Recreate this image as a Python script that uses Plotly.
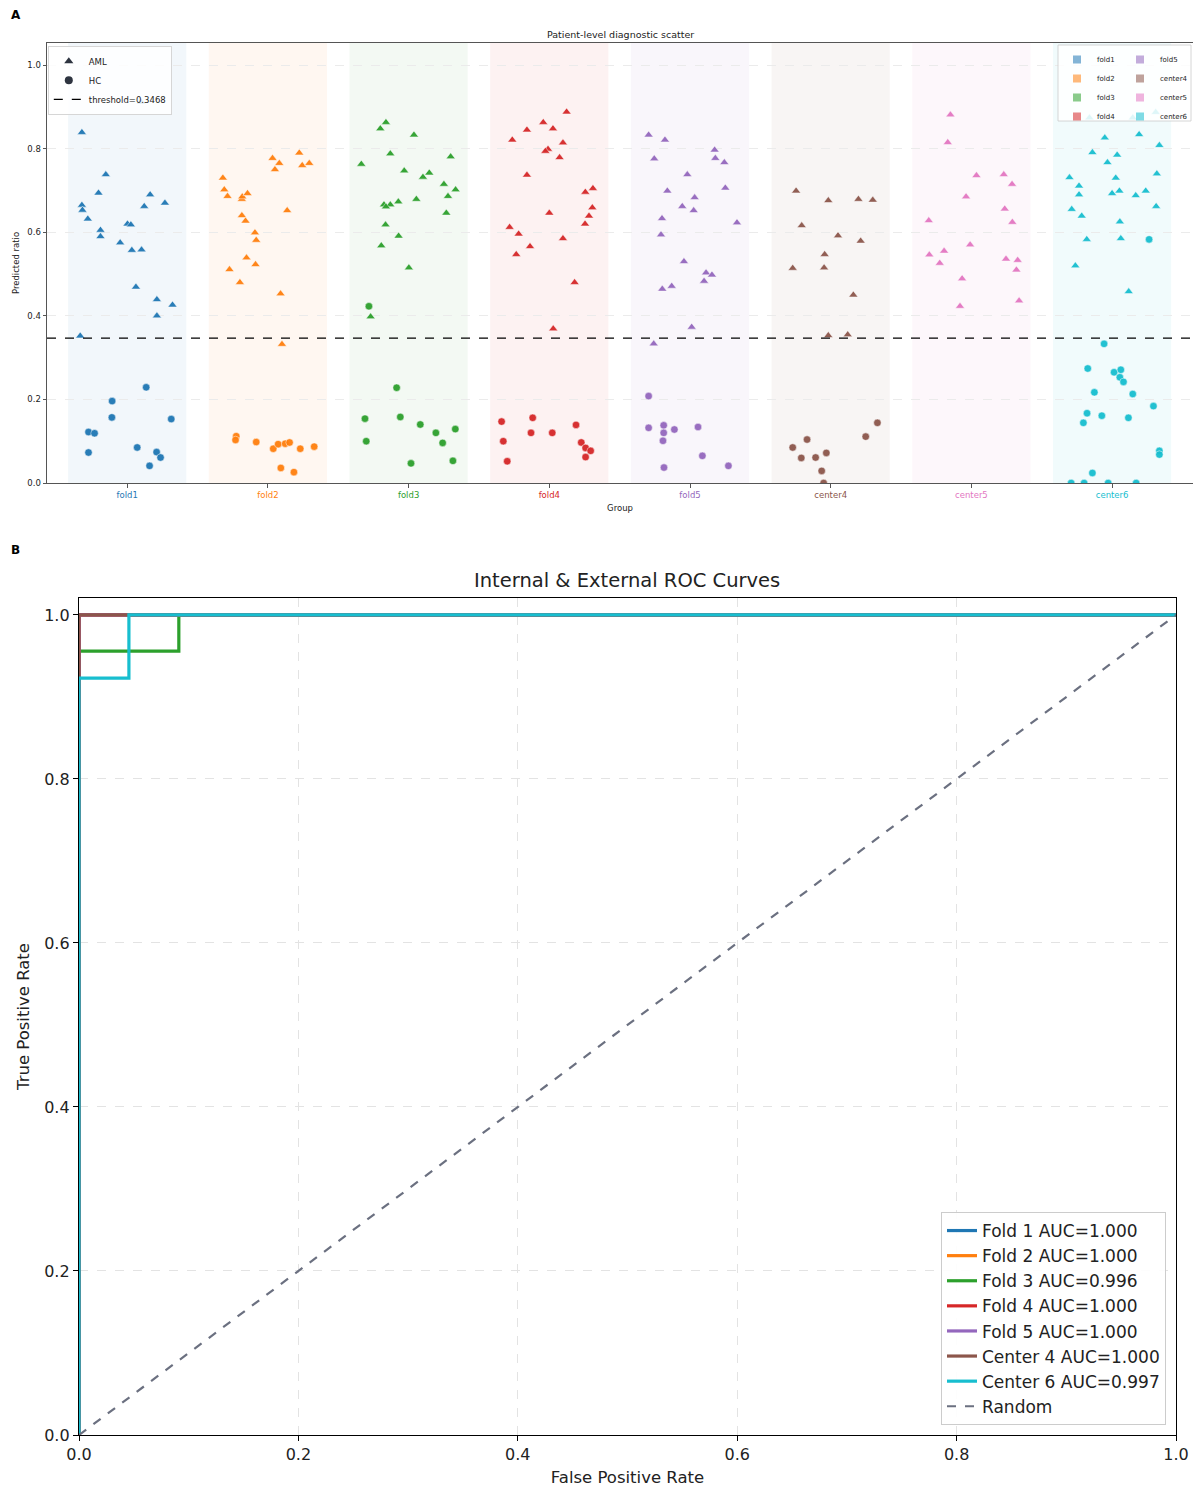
import plotly.graph_objects as go

# ---------------- Panel A data ----------------
groups = ["fold1", "fold2", "fold3", "fold4", "fold5", "center4", "center5", "center6"]
group_colors = ["#1f77b4", "#ff7f0e", "#2ca02c", "#d62728", "#9467bd", "#8c564b", "#e377c2", "#17becf"]
band_fills = ["rgba(31,119,180,0.06)", "rgba(255,127,14,0.06)", "rgba(44,160,44,0.06)", "rgba(214,39,40,0.06)",
              "rgba(148,103,189,0.06)", "rgba(140,86,75,0.06)", "rgba(227,119,194,0.06)", "rgba(23,190,207,0.06)"]
threshold = 0.3468

# predicted ratio values (AML) and horizontal jitter offsets
fold1_aml = [0.912, 0.839, 0.738, 0.694, 0.690, 0.670, 0.665, 0.662, 0.653, 0.632, 0.605, 0.590, 0.620, 0.618,
             0.575, 0.557, 0.558, 0.469, 0.439, 0.400, 0.426, 0.352]
fold1_aml_jit = [0.097, -0.322, -0.152, -0.204, 0.163, 0.268, -0.322, 0.121, -0.318, -0.280, -0.190, -0.190, 0.002,
                 0.026, -0.050, 0.033, 0.102, 0.062, 0.211, 0.211, 0.322, -0.334]
fold1_hc = [0.229, 0.196, 0.157, 0.153, 0.122, 0.119, 0.073, 0.085, 0.074, 0.061, 0.041]
fold1_hc_jit = [0.135, -0.107, -0.109, 0.313, -0.275, -0.232, -0.275, 0.071, 0.209, 0.237, 0.159]

fold2_aml = [0.730, 0.702, 0.686, 0.679, 0.685, 0.693, 0.777, 0.765, 0.750, 0.790, 0.760, 0.765, 0.652, 0.640,
             0.627, 0.599, 0.581, 0.539, 0.523, 0.511, 0.480, 0.453, 0.332]
fold2_aml_jit = [-0.320, -0.310, -0.287, -0.185, -0.182, -0.145, 0.033, 0.081, 0.050, 0.223, 0.244, 0.294, 0.137,
                 -0.185, -0.159, -0.092, -0.083, -0.152, -0.088, -0.273, -0.199, 0.090, 0.100]
fold2_hc = [0.112, 0.103, 0.098, 0.082, 0.093, 0.094, 0.097, 0.082, 0.087, 0.036, 0.026]
fold2_hc_jit = [-0.225, -0.230, -0.083, 0.038, 0.073, 0.123, 0.154, 0.230, 0.329, 0.092, 0.185]

fold3_aml = [0.863, 0.848, 0.833, 0.788, 0.781, 0.763, 0.747, 0.742, 0.732, 0.715, 0.702, 0.686, 0.679, 0.673,
             0.666, 0.666, 0.661, 0.646, 0.618, 0.591, 0.568, 0.515, 0.398]
fold3_aml_jit = [-0.161, -0.201, 0.038, -0.130, 0.299, -0.336, -0.031, 0.147, 0.102, 0.251, 0.334, 0.280, 0.055,
                 -0.073, -0.175, -0.130, -0.161, 0.268, -0.164, -0.071, -0.194, 0.002, -0.270]
fold3_hc = [0.423, 0.228, 0.154, 0.158, 0.140, 0.120, 0.129, 0.100, 0.096, 0.053, 0.047]
fold3_hc_jit = [-0.282, -0.085, -0.310, -0.059, 0.083, 0.194, 0.332, -0.301, 0.242, 0.315, 0.017]

fold4_aml = [0.888, 0.863, 0.848, 0.845, 0.821, 0.814, 0.799, 0.794, 0.779, 0.737, 0.705, 0.696, 0.659, 0.646,
             0.639, 0.620, 0.612, 0.596, 0.585, 0.566, 0.547, 0.480, 0.369]
fold4_aml_jit = [0.123, -0.043, 0.026, -0.159, -0.263, 0.097, -0.009, -0.028, 0.073, -0.159, 0.310, 0.256, 0.306,
                 0.000, 0.282, 0.254, -0.282, -0.218, 0.097, -0.137, -0.235, 0.180, 0.028]
fold4_hc = [0.156, 0.147, 0.139, 0.120, 0.120, 0.100, 0.097, 0.084, 0.077, 0.062, 0.052]
fold4_hc_jit = [-0.118, -0.339, 0.190, -0.130, 0.021, -0.327, 0.227, 0.258, 0.294, 0.258, -0.299]

fold5_aml = [0.833, 0.821, 0.797, 0.776, 0.777, 0.767, 0.738, 0.706, 0.699, 0.683, 0.662, 0.652, 0.633, 0.623,
             0.594, 0.530, 0.503, 0.498, 0.483, 0.471, 0.464, 0.373, 0.333]
fold5_aml_jit = [-0.294, -0.178, 0.175, -0.254, 0.180, 0.244, -0.019, 0.251, -0.161, 0.033, -0.055, 0.026, -0.199,
                 0.334, -0.206, -0.043, 0.114, 0.156, 0.100, -0.130, -0.197, 0.012, -0.258]
fold5_hc = [0.208, 0.132, 0.138, 0.134, 0.128, 0.120, 0.101, 0.065, 0.041, 0.037]
fold5_hc_jit = [-0.294, -0.294, -0.187, 0.057, -0.111, -0.187, -0.192, 0.088, 0.273, -0.185]

center4_aml = [0.699, 0.676, 0.679, 0.677, 0.616, 0.592, 0.579, 0.547, 0.514, 0.515, 0.450, 0.353, 0.355]
center4_aml_jit = [-0.246, -0.017, 0.197, 0.299, -0.206, 0.052, 0.213, -0.043, -0.270, -0.047, 0.161, -0.017, 0.121]
center4_hc = [0.144, 0.111, 0.104, 0.085, 0.060, 0.061, 0.072, 0.029, 0.000]
center4_hc_jit = [0.332, 0.249, -0.168, -0.270, -0.209, -0.107, -0.031, -0.064, -0.050]

center5_aml = [0.881, 0.815, 0.736, 0.738, 0.715, 0.685, 0.656, 0.628, 0.624, 0.570, 0.555, 0.546, 0.526, 0.536,
               0.533, 0.510, 0.489, 0.436, 0.423]
center5_aml_jit = [-0.149, -0.168, 0.036, 0.230, 0.289, -0.038, 0.237, -0.303, 0.291, -0.009, -0.194, -0.299,
                   -0.225, 0.246, 0.329, 0.320, -0.066, 0.339, -0.081]
center5_hc = []
center5_hc_jit = []

center6_aml = [0.887, 0.874, 0.874, 0.826, 0.834, 0.808, 0.791, 0.785, 0.767, 0.740, 0.731, 0.730, 0.711, 0.690,
               0.693, 0.699, 0.688, 0.699, 0.662, 0.655, 0.639, 0.625, 0.583, 0.585, 0.520, 0.458]
center6_aml_jit = [0.310, -0.161, 0.147, -0.052, 0.192, 0.336, -0.140, 0.036, -0.033, 0.318, -0.303, 0.026, -0.235,
                   -0.235, 0.000, 0.052, 0.168, 0.239, 0.313, -0.287, -0.216, 0.055, -0.180, 0.062, -0.261, 0.118]
center6_hc = [0.583, 0.333, 0.274, 0.265, 0.271, 0.253, 0.242, 0.217, 0.213, 0.184, 0.167, 0.161, 0.156, 0.144,
              0.077, 0.068, 0.024, 0.000, 0.000, 0.000, 0.000]
center6_hc_jit = [0.263, -0.057, -0.173, 0.014, 0.062, 0.055, 0.081, -0.126, 0.147, 0.294, -0.178, -0.073, 0.116,
                  -0.204, 0.336, 0.336, -0.140, -0.291, -0.199, -0.028, 0.171]

aml_values = [fold1_aml, fold2_aml, fold3_aml, fold4_aml, fold5_aml, center4_aml, center5_aml, center6_aml]
aml_jitter = [fold1_aml_jit, fold2_aml_jit, fold3_aml_jit, fold4_aml_jit, fold5_aml_jit, center4_aml_jit,
              center5_aml_jit, center6_aml_jit]
hc_values = [fold1_hc, fold2_hc, fold3_hc, fold4_hc, fold5_hc, center4_hc, center5_hc, center6_hc]
hc_jitter = [fold1_hc_jit, fold2_hc_jit, fold3_hc_jit, fold4_hc_jit, fold5_hc_jit, center4_hc_jit,
             center5_hc_jit, center6_hc_jit]

# ---------------- Panel B data ----------------
roc_names = ["Fold 1", "Fold 2", "Fold 3", "Fold 4", "Fold 5", "Center 4", "Center 6"]
roc_auc = [1.000, 1.000, 0.996, 1.000, 1.000, 1.000, 0.997]
roc_colors = ["#1f77b4", "#ff7f0e", "#2ca02c", "#d62728", "#9467bd", "#8c564b", "#17becf"]
fold1_fpr, fold1_tpr = [0, 0, 1], [0, 1, 1]
fold2_fpr, fold2_tpr = [0, 0, 1], [0, 1, 1]
fold3_fpr, fold3_tpr = [0, 0, 0.091, 0.091, 1], [0, 0.956, 0.956, 1, 1]
fold4_fpr, fold4_tpr = [0, 0, 1], [0, 1, 1]
fold5_fpr, fold5_tpr = [0, 0, 1], [0, 1, 1]
center4_fpr, center4_tpr = [0, 0, 1], [0, 1, 1]
center6_fpr, center6_tpr = [0, 0, 0.0455, 0.0455, 1], [0, 0.923, 0.923, 1, 1]
roc_fpr = [fold1_fpr, fold2_fpr, fold3_fpr, fold4_fpr, fold5_fpr, center4_fpr, center6_fpr]
roc_tpr = [fold1_tpr, fold2_tpr, fold3_tpr, fold4_tpr, fold5_tpr, center4_tpr, center6_tpr]

FONT = "DejaVu Sans"
W, H = 1193, 1489

fig = go.Figure()

# ---- Panel A traces ----
for i, g in enumerate(groups):
    fig.add_trace(go.Scatter(
        x=[i + j for j in aml_jitter[i]], y=aml_values[i], mode="markers",
        marker=dict(symbol="triangle-up", size=8, color=group_colors[i], opacity=0.95,
                    line=dict(color="white", width=0.5)),
        xaxis="x", yaxis="y", showlegend=False, hoverinfo="skip"))
    if hc_values[i]:
        fig.add_trace(go.Scatter(
            x=[i + j for j in hc_jitter[i]], y=hc_values[i], mode="markers",
            marker=dict(symbol="circle", size=7.5, color=group_colors[i], opacity=0.95,
                        line=dict(color="white", width=0.5)),
            xaxis="x", yaxis="y", showlegend=False, hoverinfo="skip"))

# Legend 1 (marker meaning + threshold)
fig.add_trace(go.Scatter(x=[None], y=[None], mode="markers", name="AML",
                         marker=dict(symbol="triangle-up", size=8, color="#2e3440"),
                         xaxis="x", yaxis="y", legend="legend"))
fig.add_trace(go.Scatter(x=[None], y=[None], mode="markers", name="HC",
                         marker=dict(symbol="circle", size=8, color="#2e3440"),
                         xaxis="x", yaxis="y", legend="legend"))
fig.add_trace(go.Scatter(x=[None], y=[None], mode="lines", name=f"threshold={threshold}",
                         line=dict(color="black", width=1.3, dash="dash"),
                         xaxis="x", yaxis="y", legend="legend"))
# Legend 2/3 (group patches, two columns)
for i, g in enumerate(groups):
    fig.add_trace(go.Scatter(x=[None], y=[None], mode="markers", name=g,
                             marker=dict(symbol="square", size=8, color=group_colors[i], opacity=0.55),
                             xaxis="x", yaxis="y", legend="legend2" if i < 4 else "legend3"))

# ---- Panel B traces ----
for k in range(len(roc_names)):
    fig.add_trace(go.Scatter(x=roc_fpr[k], y=roc_tpr[k], mode="lines",
                             name=f"{roc_names[k]} AUC={roc_auc[k]:.3f}",
                             line=dict(color=roc_colors[k], width=3.2),
                             xaxis="x2", yaxis="y2", legend="legend4", hoverinfo="skip"))
fig.add_trace(go.Scatter(x=[0, 1], y=[0, 1], mode="lines", name="Random",
                         line=dict(color="#6b7080", width=2.2, dash="dash"),
                         xaxis="x2", yaxis="y2", legend="legend4", hoverinfo="skip"))

# ---- shapes ----
shapes = []
for i in range(len(groups)):
    shapes.append(dict(type="rect", xref="x", yref="y domain", x0=i - 0.42, x1=i + 0.42, y0=0, y1=1,
                       fillcolor=band_fills[i], line=dict(width=0), layer="below"))
shapes.append(dict(type="line", xref="x domain", yref="y", x0=0, x1=1, y0=threshold, y1=threshold,
                   line=dict(color="black", width=1.3, dash="dash"), layer="above"))
# border around the two-column group legend
shapes.append(dict(type="rect", xref="paper", yref="paper",
                   x0=1058 / W, x1=1191 / W, y0=1 - 121 / H, y1=1 - 45 / H,
                   line=dict(color="#cccccc", width=0.8), fillcolor="rgba(255,255,255,0.85)", layer="above"))

tick_font_a = dict(family=FONT, size=8.5, color="#222")
ticktext = [f"<span style='color:{c}'>{g}</span>" for g, c in zip(groups, group_colors)]

fig.update_layout(
    width=W, height=H, autosize=False, margin=dict(l=0, r=0, t=0, b=0),
    paper_bgcolor="white", plot_bgcolor="white",
    font=dict(family=FONT, color="#222"),
    shapes=shapes,
    xaxis=dict(domain=[47 / W, 1.0], anchor="y", range=[-0.57, 7.575],
               tickvals=list(range(len(groups))), ticktext=ticktext,
               tickfont=dict(family=FONT, size=8.5), showgrid=False, zeroline=False,
               showline=True, mirror=True, linecolor="#555", linewidth=1,
               ticks="outside", ticklen=3.5, tickcolor="#555",
               title=dict(text="Group", font=dict(family=FONT, size=8.5, color="#222"), standoff=6),
               automargin=False),
    yaxis=dict(domain=[1 - 483 / H, 1 - 43 / H], anchor="x", range=[0, 1.053],
               tickvals=[0, 0.2, 0.4, 0.6, 0.8, 1.0], tickformat=".1f", tickfont=tick_font_a,
               showgrid=True, gridcolor="#ebebeb", griddash="dash", gridwidth=0.8, zeroline=False,
               showline=True, mirror=True, linecolor="#555", linewidth=1,
               ticks="outside", ticklen=3.5, tickcolor="#555",
               title=dict(text="Predicted ratio", font=dict(family=FONT, size=8.5, color="#222"), standoff=6),
               automargin=False),
    xaxis2=dict(domain=[79 / W, 1176 / W], anchor="y2", range=[0, 1],
                tickvals=[0, 0.2, 0.4, 0.6, 0.8, 1.0], tickformat=".1f",
                tickfont=dict(family=FONT, size=16, color="#222"),
                showgrid=True, gridcolor="#e3e3e3", griddash="dash", gridwidth=1, zeroline=False,
                showline=True, mirror=True, linecolor="black", linewidth=1.3,
                ticks="outside", ticklen=5, tickcolor="black",
                title=dict(text="False Positive Rate", font=dict(family=FONT, size=16.5, color="#222"), standoff=8),
                automargin=False),
    yaxis2=dict(domain=[1 - 1435 / H, 1 - 598 / H], anchor="x2", range=[0, 1.0207],
                tickvals=[0, 0.2, 0.4, 0.6, 0.8, 1.0], tickformat=".1f",
                tickfont=dict(family=FONT, size=16, color="#222"),
                showgrid=True, gridcolor="#e3e3e3", griddash="dash", gridwidth=1, zeroline=False,
                showline=True, mirror=True, linecolor="black", linewidth=1.3,
                ticks="outside", ticklen=5, tickcolor="black",
                title=dict(text="True Positive Rate", font=dict(family=FONT, size=16.5, color="#222"), standoff=10),
                automargin=False),
    legend=dict(x=48 / W, y=1 - 46 / H, xanchor="left", yanchor="top",
                font=dict(family=FONT, size=8.5, color="#222"), bgcolor="rgba(255,255,255,0.85)",
                bordercolor="#cccccc", borderwidth=0.8, tracegroupgap=0, itemwidth=30),
    legend2=dict(x=1057 / W, y=1 - 45 / H, xanchor="left", yanchor="top",
                 font=dict(family=FONT, size=7, color="#222"), bgcolor="rgba(0,0,0,0)",
                 borderwidth=0, itemwidth=30),
    legend3=dict(x=1.0, y=1 - 45 / H, xanchor="right", yanchor="top",
                 font=dict(family=FONT, size=7, color="#222"), bgcolor="rgba(0,0,0,0)",
                 borderwidth=0, itemwidth=30),
    legend4=dict(x=1166 / W, y=1 - 1425 / H, xanchor="right", yanchor="bottom",
                 font=dict(family=FONT, size=17, color="#222"), bgcolor="rgba(255,255,255,0.9)",
                 bordercolor="#cccccc", borderwidth=1),
    annotations=[
        dict(text="<b>A</b>", xref="paper", yref="paper", x=9 / W, y=1 - 15 / H, showarrow=False,
             xanchor="left", yanchor="middle", font=dict(family=FONT, size=12, color="black")),
        dict(text="Patient-level diagnostic scatter", xref="paper", yref="paper", x=620 / W, y=1 - 34 / H,
             showarrow=False, xanchor="center", yanchor="middle", font=dict(family=FONT, size=9.5, color="#222")),
        dict(text="<b>B</b>", xref="paper", yref="paper", x=9 / W, y=1 - 550 / H, showarrow=False,
             xanchor="left", yanchor="middle", font=dict(family=FONT, size=12, color="black")),
        dict(text="Internal &amp; External ROC Curves", xref="paper", yref="paper", x=627 / W, y=1 - 580 / H,
             showarrow=False, xanchor="center", yanchor="middle", font=dict(family=FONT, size=19.5, color="#222")),
    ],
)

post = (
    "document.documentElement.style.margin='0';document.documentElement.style.overflow='hidden';"
    "document.body.style.margin='0';document.body.style.overflow='hidden';"
)
fig.write_html("out.html", config={"displayModeBar": False}, post_script=post)
